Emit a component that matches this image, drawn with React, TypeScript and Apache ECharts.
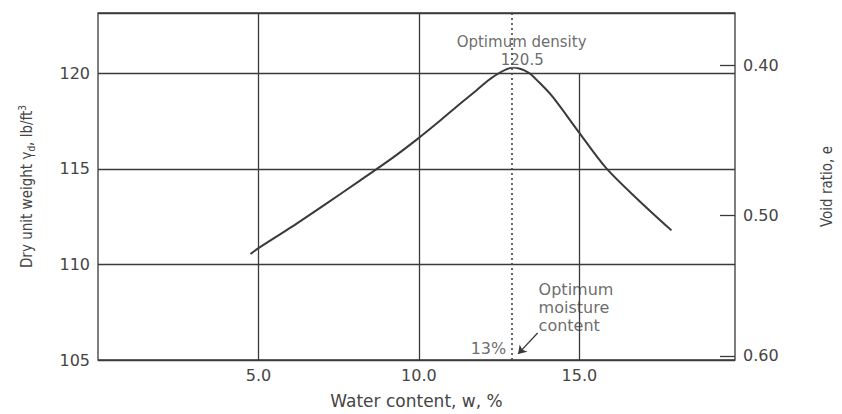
import React, { useEffect, useRef } from "react";
import * as echarts from "echarts";

// Compaction curve
const waterContent = [4.75, 5.0, 6.06, 7.07, 8.15, 9.2, 10.0, 10.56, 11.17, 11.79, 12.3, 12.93, 13.4, 13.73, 14.17, 14.97, 15.83, 16.82, 17.87];
const dryUnitWeight = [110.54, 110.85, 111.99, 113.13, 114.37, 115.6, 116.62, 117.38, 118.25, 119.1, 119.8, 120.3, 120.05, 119.55, 118.76, 116.95, 115.05, 113.4, 111.78];

// Axes
const xMin = 0;
const xMax = 19.85;
const xInterval = 5;
const yMin = 105;
const yMax = 123.15;
const yInterval = 5;

// Secondary (void ratio) axis: tick labels and the dry unit weight they sit at
const voidRatioTicks = [0.4, 0.5, 0.6];
const voidRatioAtDryWeight = [120.42, 112.56, 105.22];

// Vertical grid lines
const fullGridX = [5, 10];
const partialGridX = 15;
const partialGridRange = [105, 120];

// Optimum
const optimumWater = 12.9;
const optimumWaterLabel = "13%";
const optimumDensityLabel = "120.5";

const FONT = "DejaVu Sans, Liberation Sans, sans-serif";
const NARROW = "Liberation Sans Narrow, DejaVu Sans Condensed, Liberation Sans, sans-serif";
const TEXT = "#454545";
const LINE = "#3a3a3a";

export default function App() {
  const ref = useRef<HTMLDivElement>(null);
  useEffect(() => {
    const chart = echarts.init(ref.current!, null, { renderer: "svg" });
    const curve = waterContent.map((w, i) => [w, dryUnitWeight[i]]);
    const gridLineStyle = { color: LINE, width: 1.3, type: "solid" as const };
    const annotationText = { fontFamily: FONT, color: TEXT };
    chart.setOption({
      animation: false,
      backgroundColor: "#ffffff",
      grid: {
        left: "11.64%",
        right: "11.88%",
        top: "3.14%",
        bottom: "12.08%",
        show: true,
        borderColor: LINE,
        borderWidth: 1.3,
        backgroundColor: "transparent",
      },
      xAxis: {
        type: "value",
        min: xMin,
        max: xMax,
        interval: xInterval,
        axisLine: { show: false },
        axisTick: { show: false },
        splitLine: { show: false },
        axisLabel: {
          margin: 7,
          fontSize: 16,
          fontFamily: FONT,
          color: TEXT,
          showMaxLabel: false,
          showMinLabel: false,
          formatter: (v: number) => (v === 0 ? "" : v.toFixed(1)),
        },
        name: "Water content, w, %",
        nameLocation: "middle",
        nameGap: 32,
        nameTextStyle: { fontSize: 17, fontFamily: FONT, color: TEXT },
      },
      yAxis: [
        {
          type: "value",
          min: yMin,
          max: yMax,
          interval: yInterval,
          axisLine: { show: false },
          axisTick: { show: false },
          splitLine: { show: true, lineStyle: gridLineStyle },
          axisLabel: { margin: 8, fontSize: 16, fontFamily: FONT, color: TEXT, showMaxLabel: false },
          name: "Dry unit weight γ{sub|d}, lb/ft{sup|3}",
          nameLocation: "middle",
          nameRotate: 90,
          nameGap: 62,
          nameTextStyle: {
            fontSize: 15,
            fontFamily: NARROW,
            color: TEXT,
            lineHeight: 19,
            rich: {
              sub: { fontSize: 10, fontFamily: NARROW, color: TEXT, verticalAlign: "bottom", lineHeight: 19 },
              sup: { fontSize: 10, fontFamily: NARROW, color: TEXT, verticalAlign: "top", lineHeight: 19 },
            },
          },
        },
        {
          type: "value",
          min: yMin,
          max: yMax,
          position: "right",
          axisLine: { show: false },
          splitLine: { show: false },
          axisTick: {
            show: true,
            inside: true,
            length: 15,
            customValues: voidRatioAtDryWeight,
            lineStyle: { color: LINE, width: 1.3 },
          },
          axisLabel: {
            customValues: voidRatioAtDryWeight,
            margin: 8,
            fontSize: 16,
            fontFamily: FONT,
            color: TEXT,
            formatter: (v: number) => {
              const i = voidRatioAtDryWeight.findIndex((d) => Math.abs(d - v) < 1e-6);
              return i >= 0 ? voidRatioTicks[i].toFixed(2) : "";
            },
          },
          name: "Void ratio, e",
          nameLocation: "middle",
          nameRotate: 90,
          nameGap: 84,
          nameTextStyle: { fontSize: 15, fontFamily: NARROW, color: TEXT },
        },
      ],
      series: [
        {
          type: "line",
          name: "grid",
          data: [],
          silent: true,
          z: 1,
          markLine: {
            silent: true,
            symbol: ["none", "none"],
            label: { show: false },
            lineStyle: gridLineStyle,
            data: [
              ...fullGridX.map((x) => ({ xAxis: x })),
              [
                { coord: [partialGridX, partialGridRange[0]] },
                { coord: [partialGridX, partialGridRange[1]] },
              ],
              { xAxis: optimumWater, lineStyle: { color: "#444", width: 1.6, type: [2, 3] } },
            ],
          },
        },
        {
          type: "line",
          name: "Compaction curve",
          data: curve,
          smooth: 0.3,
          symbol: "none",
          z: 3,
          lineStyle: { color: LINE, width: 2 },
        },
        {
          type: "scatter",
          name: "annotations",
          symbolSize: 0,
          silent: true,
          z: 4,
          data: [
            {
              value: [13.2, 121.62],
              label: {
                show: true,
                position: "inside",
                formatter: "Optimum density",
                fontSize: 15,
                ...annotationText,
                align: "center",
                backgroundColor: "#ffffff",
                padding: [1, 2, 0, 2],
              },
            },
            {
              value: [13.22, 120.7],
              label: {
                show: true,
                position: "inside",
                formatter: optimumDensityLabel,
                fontSize: 15,
                ...annotationText,
                align: "center",
                backgroundColor: "#ffffff",
                padding: [0, 2, 0, 2],
              },
            },
            {
              value: [13.73, 107.75],
              label: {
                show: true,
                position: "right",
                distance: 0,
                formatter: "Optimum\nmoisture\ncontent",
                fontSize: 16,
                lineHeight: 18,
                ...annotationText,
                align: "left",
                backgroundColor: "#ffffff",
                padding: [2, 2, 2, 0],
              },
            },
            {
              value: [12.72, 105.58],
              label: {
                show: true,
                position: "left",
                distance: 0,
                formatter: optimumWaterLabel,
                fontSize: 16,
                ...annotationText,
              },
            },
          ],
          markLine: {
            silent: true,
            symbol: ["none", "arrow"],
            symbolSize: 8,
            label: { show: false },
            lineStyle: { color: LINE, width: 1.3, type: "solid" },
            data: [[{ coord: [13.7, 106.41] }, { coord: [13.09, 105.32] }]],
          },
        },
      ],
    });
    const onResize = () => chart.resize();
    window.addEventListener("resize", onResize);
    return () => {
      window.removeEventListener("resize", onResize);
      chart.dispose();
    };
  }, []);
  return <div ref={ref} style={{ position: "fixed", left: 0, top: 0, width: "100vw", height: "100vh" }} />;
}
